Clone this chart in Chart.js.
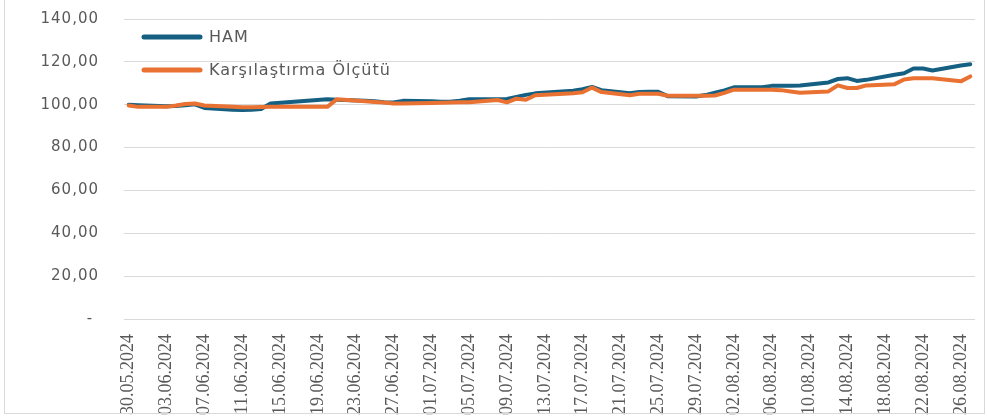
<!DOCTYPE html>
<html lang="tr">

<head>
    <meta charset="UTF-8">
    <title>HAM - Karşılaştırma Ölçütü</title>
    <script src="https://cdn.jsdelivr.net/npm/chart.js"></script>
    <style>
        body { margin: 0; background: #ffffff; }
        .wrap { position: relative; width: 987px; height: 418px; }
        .frame {
            position: absolute; left: 4px; top: -2px; width: 979px; height: 414px;
            border: 1.5px solid #d9d9d9; pointer-events: none;
        }
    </style>
</head>

<body>
    <div class="wrap">
        <canvas id="grafik" width="987" height="418"></canvas>
        <div class="frame"></div>
    </div>

    <script>
        // Günler (30.05.2024 - 27.08.2024), hafta sonu / tatil günleri null
        const gunler = [
            '30.05.2024', '31.05.2024', '01.06.2024', '02.06.2024', '03.06.2024', '04.06.2024', '05.06.2024',
            '06.06.2024', '07.06.2024', '08.06.2024', '09.06.2024', '10.06.2024', '11.06.2024', '12.06.2024',
            '13.06.2024', '14.06.2024', '15.06.2024', '16.06.2024', '17.06.2024', '18.06.2024', '19.06.2024',
            '20.06.2024', '21.06.2024', '22.06.2024', '23.06.2024', '24.06.2024', '25.06.2024', '26.06.2024',
            '27.06.2024', '28.06.2024', '29.06.2024', '30.06.2024', '01.07.2024', '02.07.2024', '03.07.2024',
            '04.07.2024', '05.07.2024', '06.07.2024', '07.07.2024', '08.07.2024', '09.07.2024', '10.07.2024',
            '11.07.2024', '12.07.2024', '13.07.2024', '14.07.2024', '15.07.2024', '16.07.2024', '17.07.2024',
            '18.07.2024', '19.07.2024', '20.07.2024', '21.07.2024', '22.07.2024', '23.07.2024', '24.07.2024',
            '25.07.2024', '26.07.2024', '27.07.2024', '28.07.2024', '29.07.2024', '30.07.2024', '31.07.2024',
            '01.08.2024', '02.08.2024', '03.08.2024', '04.08.2024', '05.08.2024', '06.08.2024', '07.08.2024',
            '08.08.2024', '09.08.2024', '10.08.2024', '11.08.2024', '12.08.2024', '13.08.2024', '14.08.2024',
            '15.08.2024', '16.08.2024', '17.08.2024', '18.08.2024', '19.08.2024', '20.08.2024', '21.08.2024',
            '22.08.2024', '23.08.2024', '24.08.2024', '25.08.2024', '26.08.2024', '27.08.2024'
        ];

        const ham = [
            100.0, 99.8, null, null, 99.3, 99.4, 99.8,
            100.2, 98.5, null, null, 97.6, 97.5, 97.6,
            98.0, 100.6, null, null, null, null, null,
            102.6, 102.3, null, null, 101.8, 101.6, 101.2,
            101.0, 101.8, null, null, 101.6, 101.4, 101.4,
            101.9, 102.6, null, null, 102.6, 102.7, 103.6,
            104.6, 105.3, null, null, null, 106.5, 107.2,
            108.3, 106.8, null, null, 105.4, 105.9, 106.0,
            106.0, 104.0, null, null, 103.8, 104.5, 105.6,
            106.7, 108.1, null, null, 108.2, 108.8, 108.8,
            108.9, 109.0, null, null, 110.4, 112.0, 112.4,
            111.1, 111.6, null, null, 114.0, 114.7, 116.9,
            116.9, 116.0, null, null, 118.3, 118.9
        ];

        const karsilastirma = [
            99.6, 99.0, null, null, 99.0, 99.6, 100.3,
            100.6, 99.6, null, null, 99.0, 98.8, 98.8,
            98.9, 99.0, null, null, null, null, null,
            99.0, 102.5, null, null, 101.6, 101.3, 101.0,
            100.6, 100.6, null, null, 100.8, 100.9, 101.0,
            101.1, 101.1, null, null, 102.2, 101.1, 102.8,
            102.3, 104.4, null, null, null, 105.4, 105.8,
            108.0, 105.9, null, null, 104.4, 105.1, 105.1,
            105.1, 104.2, null, null, 104.2, 104.2, 104.3,
            105.5, 107.0, null, null, 107.0, 107.0, 106.8,
            106.2, 105.6, null, null, 106.2, 109.0, 107.8,
            107.8, 109.0, null, null, 109.6, 111.8, 112.3,
            112.4, 112.3, null, null, 110.9, 113.2
        ];

        // Eksende gösterilen tarihler (4 günde bir)
        const eksenEtiketleri = [
            '30.05.2024', '03.06.2024', '07.06.2024', '11.06.2024', '15.06.2024', '19.06.2024',
            '23.06.2024', '27.06.2024', '01.07.2024', '05.07.2024', '09.07.2024', '13.07.2024',
            '17.07.2024', '21.07.2024', '25.07.2024', '29.07.2024', '02.08.2024', '06.08.2024',
            '10.08.2024', '14.08.2024', '18.08.2024', '22.08.2024', '26.08.2024'
        ];

        const seriIsimleri = ['HAM', 'Karşılaştırma Ölçütü'];
        const renkler = ['#156082', '#E97132'];
        const yazıRengi = '#595959';

        // Y ekseni etiketleri biraz aralıklı yazılıyor
        class AralikliLinear extends Chart.LinearScale {
            drawLabels(area) {
                this.ctx.save();
                this.ctx.letterSpacing = '1px';
                super.drawLabels(area);
                this.ctx.restore();
            }
        }
        AralikliLinear.id = 'araliklilinear';
        AralikliLinear.defaults = Chart.LinearScale.defaults;
        Chart.register(AralikliLinear);

        // Grafik içindeki lejant
        const icLejant = {
            id: 'icLejant',
            afterDraw(chart) {
                const ctx = chart.ctx;
                ctx.save();
                ctx.letterSpacing = '1px';
                ctx.font = '16px "DejaVu Sans"';
                ctx.textBaseline = 'middle';
                ctx.lineCap = 'round';
                ctx.lineWidth = 5;
                [37, 70].forEach((y, i) => {
                    ctx.strokeStyle = renkler[i];
                    ctx.beginPath();
                    ctx.moveTo(144, y);
                    ctx.lineTo(200, y);
                    ctx.stroke();
                    ctx.fillStyle = yazıRengi;
                    ctx.fillText(seriIsimleri[i], 209, y + 1);
                });
                ctx.restore();
            }
        };

        const ctx = document.getElementById('grafik').getContext('2d');
        const grafik = new Chart(ctx, {
            type: 'line',
            data: {
                labels: gunler,
                datasets: [{
                    label: seriIsimleri[0],
                    data: ham,
                    borderColor: renkler[0],
                    order: 1
                }, {
                    label: seriIsimleri[1],
                    data: karsilastirma,
                    borderColor: renkler[1],
                    order: 0
                }]
            },
            options: {
                responsive: false,
                animation: false,
                spanGaps: true,
                elements: {
                    point: { radius: 0 },
                    line: { borderWidth: 4, tension: 0, borderCapStyle: 'round', borderJoinStyle: 'round' }
                },
                layout: { padding: { left: 0, top: 19, right: 12, bottom: 0 } },
                plugins: {
                    legend: { display: false },
                    tooltip: { enabled: false }
                },
                scales: {
                    x: {
                        offset: true,
                        grid: { display: false, drawTicks: false },
                        border: { display: false },
                        ticks: {
                            autoSkip: false,
                            minRotation: 90,
                            maxRotation: 90,
                            padding: 15,
                            color: yazıRengi,
                            font: { family: '"Liberation Sans Narrow"', size: 18 },
                            callback: (v, i) => eksenEtiketleri.includes(gunler[i]) ? gunler[i] : ''
                        },
                        afterFit: (s) => { s.height = 99; s.paddingLeft = 0; s.paddingRight = 0; }
                    },
                    y: {
                        type: 'araliklilinear',
                        min: 0,
                        max: 140,
                        grid: { color: '#d9d9d9', lineWidth: 1, drawTicks: false },
                        border: { display: false },
                        ticks: {
                            stepSize: 20,
                            padding: 25,
                            color: yazıRengi,
                            font: { family: '"DejaVu Sans"', size: 15 },
                            callback: (v) => v === 0 ? '- ' : v.toFixed(2).replace('.', ',')
                        },
                        afterFit: (s) => { s.width = 124; s.paddingTop = 0; s.paddingBottom = 0; }
                    }
                }
            },
            plugins: [icLejant]
        });
    </script>
</body>

</html>
